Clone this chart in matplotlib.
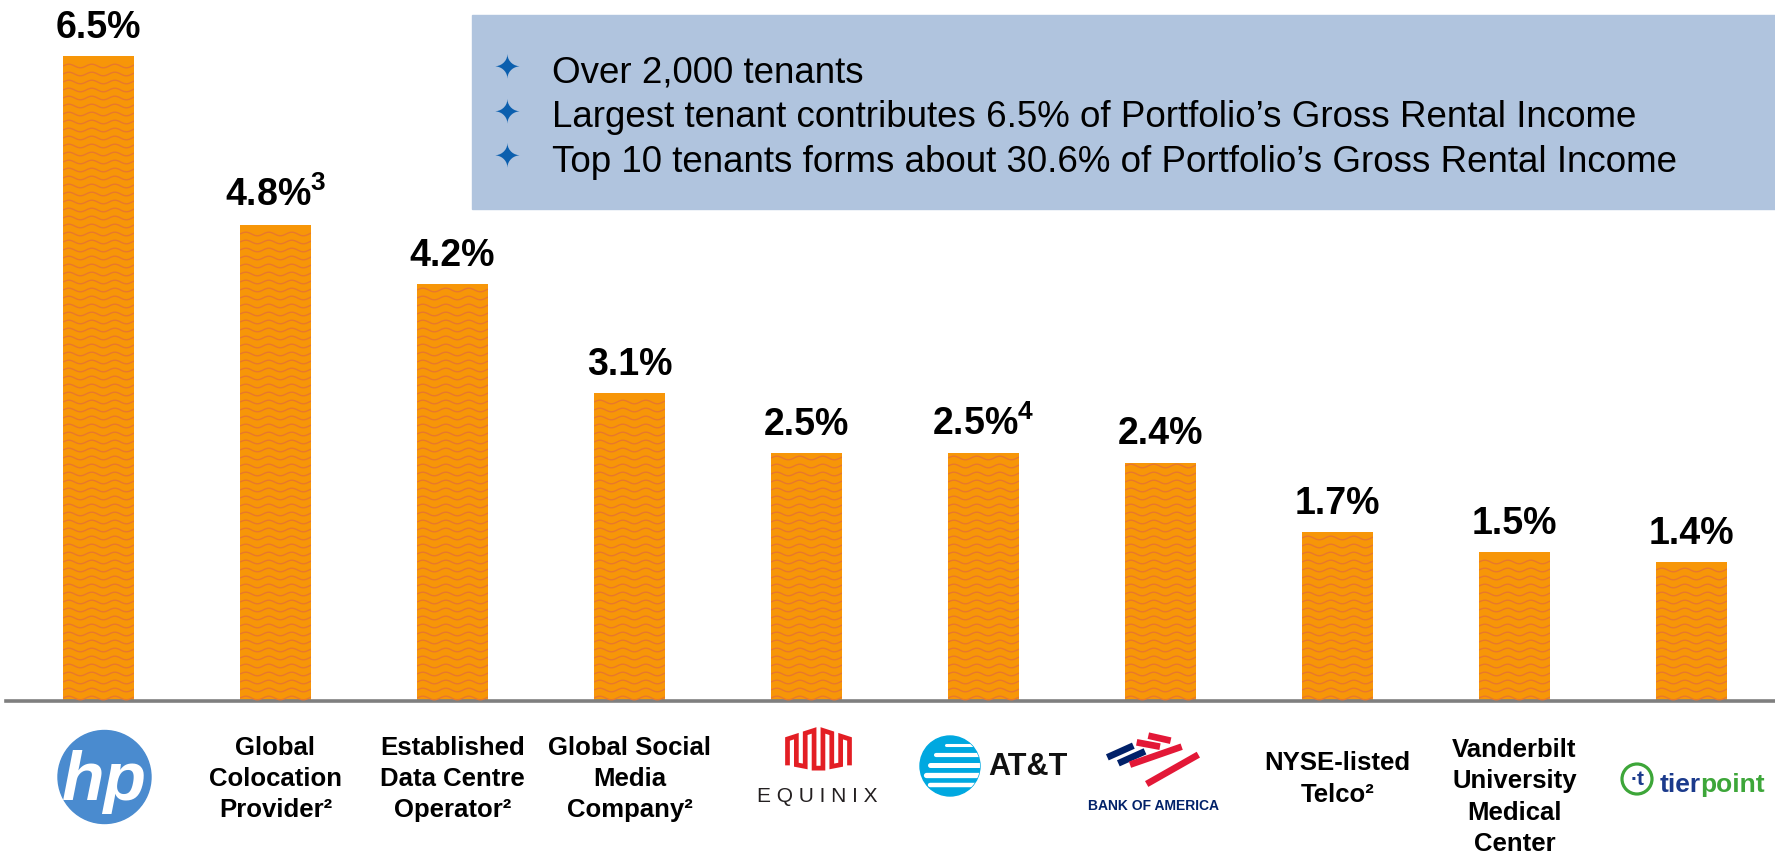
import numpy as np
import matplotlib
matplotlib.use('Agg')
import matplotlib.pyplot as plt
from matplotlib.patches import Rectangle, Circle
from matplotlib.collections import LineCollection
from matplotlib.lines import Line2D
from matplotlib.transforms import Affine2D, IdentityTransform, blended_transform_factory

# Top 10 tenants, share of portfolio gross rental income (%)
tenants = ["HP",
           "Global\nColocation\nProvider²",
           "Established\nData Centre\nOperator²",
           "Global Social\nMedia\nCompany²",
           "Equinix",
           "AT&T",
           "Bank of America",
           "NYSE-listed\nTelco²",
           "Vanderbilt\nUniversity\nMedical\nCenter",
           "TierPoint"]
logo_tenants = ["HP", "Equinix", "AT&T", "Bank of America", "TierPoint"]
shares = [6.5, 4.8, 4.2, 3.1, 2.5, 2.5, 2.4, 1.7, 1.5, 1.4]
notes = ["", "3", "", "", "", "4", "", "", "", ""]

highlights = ["Over 2,000 tenants",
              "Largest tenant contributes 6.5% of Portfolio’s Gross Rental Income",
              "Top 10 tenants forms about 30.6% of Portfolio’s Gross Rental Income"]

W, H = 1775, 853
plt.rcParams['font.family'] = ['Liberation Sans', 'DejaVu Sans']
plt.rcParams['mathtext.fontset'] = 'custom'
plt.rcParams['mathtext.rm'] = 'Liberation Sans:bold'
plt.rcParams['mathtext.it'] = 'Liberation Sans:bold'
plt.rcParams['mathtext.bf'] = 'Liberation Sans:bold'
fig = plt.figure(figsize=(W / 100, H / 100), dpi=100)
px = Affine2D().scale(1, -1).translate(0, H)  # pixel coords, origin top-left

# bar chart
ax = fig.add_axes([6 / W, (H - 702) / H, (W - 6) / W, 702 / H])
x = np.arange(len(shares))
bars = ax.bar(x, shares, width=0.4, color='#F79608', zorder=2)
ax.set_xlim((6 - 98.5) / 177, (W - 98.5) / 177)
ax.set_ylim(0, 702 / 99.2)
for s in ['top', 'left', 'right']:
    ax.spines[s].set_visible(False)
ax.spines['bottom'].set_color('#7F7F7F')
ax.spines['bottom'].set_linewidth(2.6)
ax.set_xticks([])
ax.set_yticks([])

# wavy pattern inside each bar
for b in bars:
    x0, y0 = ax.transData.transform((b.get_x(), 0))
    x1, y1 = ax.transData.transform((b.get_x() + b.get_width(), b.get_height()))
    xs = np.arange(x0, x1 + 1, 1.0)
    segs = []
    for yy in np.arange(y0 + 3, y1 - 2, 8):
        ys = yy + 1.8 * np.sin(2 * np.pi * (xs - x0) / 23)
        segs.append(np.column_stack([xs, ys]))
    lc = LineCollection(segs, colors='#E8772E', linewidths=0.95,
                        transform=IdentityTransform(), zorder=3)
    ax.add_collection(lc, autolim=False)
    lc.set_clip_path(b)

# value labels
for i, (v, n) in enumerate(zip(shares, notes)):
    label = f"{v:.1f}%" + (f"$^{{{n}}}$" if n else "")
    ax.annotate(label, (i, v), xytext=(0, 14), textcoords='offset points',
                ha='center', va='baseline', fontsize=27, fontweight='bold')

# category labels
trans = blended_transform_factory(ax.transData, px)
for i, name in enumerate(tenants):
    if name in logo_tenants:
        continue
    y = 779 if name.count("\n") < 3 else 797
    ax.text(i, y, name, transform=trans, ha='center', va='center', fontsize=18.5,
            fontweight='bold', linespacing=1.37, clip_on=False)


def bar_px(i):
    return ax.transData.transform((i, 0))[0]


def draw_hp(cx):
    fig.add_artist(Circle((cx + 6, 778), 46.5, color='#4A8BCF', transform=px))
    fig.text(cx + 6, 782, 'hp', transform=px, color='white', fontsize=50,
             style='italic', fontweight='bold', ha='center', va='center')


def draw_equinix(cx):
    mc = cx + 12
    vx = mc + np.linspace(-31, 31, 8)
    k = np.abs(vx - mc) / 31
    tops = 730 + 10 * k
    bots = 770 - 6 * k
    pts = []
    for j in range(len(vx)):
        if j % 2 == 0:
            pts += [(vx[j], bots[j]), (vx[j], tops[j])]
        else:
            pts += [(vx[j], tops[j]), (vx[j], bots[j])]
    pts = np.array(pts)
    fig.add_artist(Line2D(pts[:, 0], pts[:, 1], color='#E31E24', lw=3.4,
                          solid_joinstyle='miter', transform=px))
    fig.text(cx + 10.5, 797, 'E Q U I N I X', transform=px, fontsize=15,
             ha='center', va='center', color='#231F20')


def draw_att(cx):
    gx, gy = cx - 33.5, 767
    globe = Circle((gx, gy), 30, color='#00A8E0', transform=px)
    fig.add_artist(globe)
    for dy, lw, sx in [(-21, 2.2, -4), (-11, 3.0, -14), (-1, 3.6, -20), (9, 3.8, -24), (19, 3.2, -20)]:
        ln = Line2D([gx + sx, gx + 40], [gy + dy, gy + dy], color='white', lw=lw,
                    transform=px, solid_capstyle='round')
        fig.add_artist(ln)
        ln.set_clip_path(globe)
    fig.text(cx + 4.5, 767, 'AT&T', transform=px, fontsize=22, fontweight='bold',
             ha='left', va='center', color='#111111')


def draw_bofa(cx):
    ox, oy = 1080 - 1160.5 + cx, 725
    strokes = [((82, 100), (160, 65), '#012169'),
               ((115, 118), (195, 82), '#012169'),
               ((205, 35), (272, 50), '#E31837'),
               ((170, 55), (240, 68), '#E31837'),
               ((150, 122), (305, 68), '#E31837'),
               ((200, 180), (355, 92), '#E31837')]
    for (a, b, c) in strokes:
        fig.add_artist(Line2D([ox + a[0] / 3, ox + b[0] / 3], [oy + a[1] / 3, oy + b[1] / 3],
                              color=c, lw=4.8, solid_capstyle='butt', transform=px))
    fig.text(cx - 6.5, 806, 'BANK OF AMERICA', transform=px, fontsize=10,
             fontweight='bold', ha='center', va='center', color='#012169')


def draw_tierpoint(cx):
    rx, ry = cx - 54.5, 780
    fig.add_artist(Circle((rx, ry), 15, fill=False, ec='#3DA639', lw=2.3, transform=px))
    fig.text(rx + 1, ry, '·t', transform=px, fontsize=15, fontweight='bold',
             ha='center', va='center', color='#1B3A8C')
    t1 = fig.text(cx - 32, 792, 'tier', transform=px, fontsize=19, fontweight='bold',
                  ha='left', va='baseline', color='#1B3A8C')
    ax.annotate('point', xy=(1, 0), xycoords=t1, xytext=(0, 0), textcoords='offset points',
                fontsize=19, fontweight='bold', ha='left', va='bottom', color='#3DA639',
                annotation_clip=False)


draw_hp(bar_px(0))
draw_equinix(bar_px(4))
draw_att(bar_px(5))
draw_bofa(bar_px(6))
draw_tierpoint(bar_px(9))

# highlight box
fig.add_artist(Rectangle((472, 16), W - 472, 194, color='#B0C4DE', transform=px, zorder=5))
for k, line in enumerate(highlights):
    y = 83 + 44.5 * k
    fig.text(507, y - 14, '✦', transform=px, fontsize=23, color='#0B5FAE',
             ha='center', va='center', family='DejaVu Sans', zorder=6)
    fig.text(552, y, line, transform=px, fontsize=26.5, va='baseline', zorder=6)

fig.savefig('out.png', dpi=100)
